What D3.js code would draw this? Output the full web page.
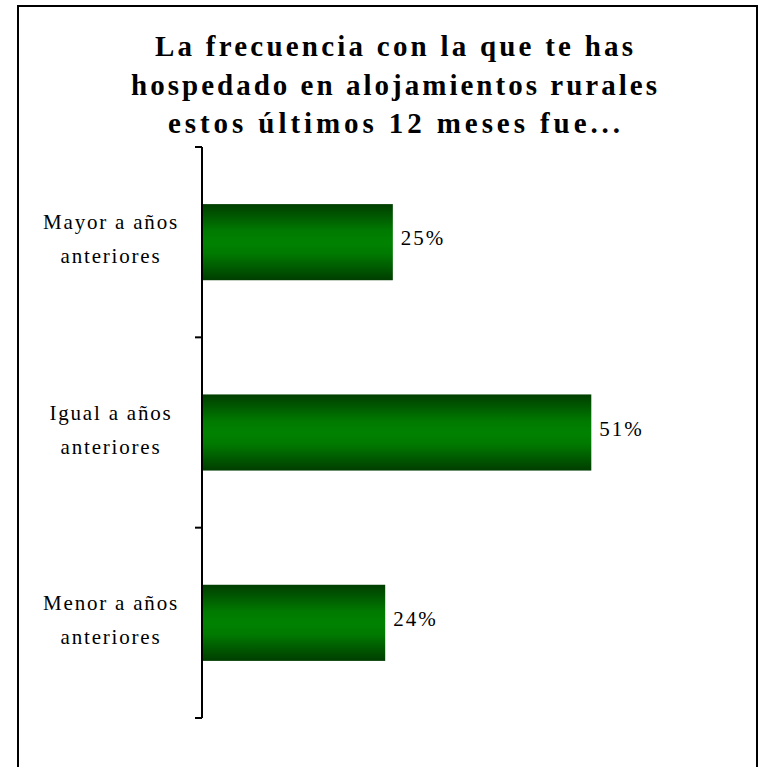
<!DOCTYPE html>
<html>
<head>
<meta charset="utf-8">
<script src="https://cdn.jsdelivr.net/npm/d3@7"></script>
<style>
  html, body { margin: 0; padding: 0; background: #fff; }
  svg { display: block; }
</style>
</head>
<body>
<script>
// ---- data ----
const titleLines = ["La frecuencia con la que te has", "hospedado en alojamientos rurales", "estos últimos 12 meses fue..."];
const categories = ["Mayor a años anteriores", "Igual a años anteriores", "Menor a años anteriores"];
const categoryLines = [["Mayor a años", "anteriores"], ["Igual a años", "anteriores"], ["Menor a años", "anteriores"]];
const values = [0.25, 0.51, 0.24];
const valueLabels = ["25%", "51%", "24%"];

// ---- layout ----
const W = 759, H = 767;
const svg = d3.select("body").append("svg").attr("width", W).attr("height", H);

const defs = svg.append("defs");
const grad = defs.append("linearGradient").attr("id", "barGrad")
  .attr("x1", 0).attr("y1", 0).attr("x2", 0).attr("y2", 1);
[[0, "#003d00"], [0.35, "#007a00"], [0.5, "#008200"], [0.65, "#007a00"], [1, "#003d00"]]
  .forEach(([o, c]) => grad.append("stop").attr("offset", o).attr("stop-color", c));

// frame
svg.append("rect").attr("x", 18).attr("y", 6).attr("width", 739).attr("height", 800)
  .attr("fill", "none").attr("stroke", "#000").attr("stroke-width", 2);

// title
const titleWidths = [478, 526, 452];
svg.append("g").selectAll("text").data(titleLines).join("text")
  .attr("x", 394).attr("y", (d, i) => 56 + i * 38.5)
  .attr("text-anchor", "middle")
  .attr("textLength", (d, i) => titleWidths[i])
  .attr("lengthAdjust", "spacing")
  .style("font-family", "'Liberation Serif', 'Times New Roman', serif")
  .style("font-weight", "bold").style("font-size", "29px")
  .text(d => d);

// scales
const y = d3.scaleBand().domain(categories).range([147, 718]).paddingInner(0.6).paddingOuter(0.3);
const x = d3.scaleLinear().domain([0, 0.6]).range([202, 660]);

// bars
svg.append("g").selectAll("rect").data(values).join("rect")
  .attr("x", x(0)).attr("y", (d, i) => y(categories[i]))
  .attr("width", d => x(d) - x(0)).attr("height", y.bandwidth())
  .attr("fill", "url(#barGrad)");

// axis (category boundaries as ticks)
const ax = svg.append("g").attr("stroke", "#000").attr("stroke-width", 2);
const [r0, r1] = y.range();
ax.append("line").attr("x1", x(0)).attr("x2", x(0)).attr("y1", r0).attr("y2", r1);
d3.range(categories.length + 1).forEach(i => {
  const ty = r0 + i * y.step();
  ax.append("line").attr("x1", x(0) - 7).attr("x2", x(0)).attr("y1", ty).attr("y2", ty);
});

// category labels
const lab = svg.append("g")
  .style("font-family", "'Liberation Serif', 'Times New Roman', serif")
  .style("font-size", "21px").style("letter-spacing", "1.8px");
categories.forEach((c, i) => {
  const cy = y(c) + y.bandwidth() / 2;
  categoryLines[i].forEach((t, j) => {
    lab.append("text").attr("x", 111).attr("y", cy + (j === 0 ? -13 : 21))
      .attr("text-anchor", "middle").text(t);
  });
});

// value labels
svg.append("g").selectAll("text").data(values).join("text")
  .attr("x", d => x(d) + 8)
  .attr("y", (d, i) => y(categories[i]) + y.bandwidth() / 2 + 3)
  .style("font-family", "'Liberation Serif', 'Times New Roman', serif")
  .style("font-size", "21px").style("letter-spacing", "2px")
  .text((d, i) => valueLabels[i]);
</script>
</body>
</html>
